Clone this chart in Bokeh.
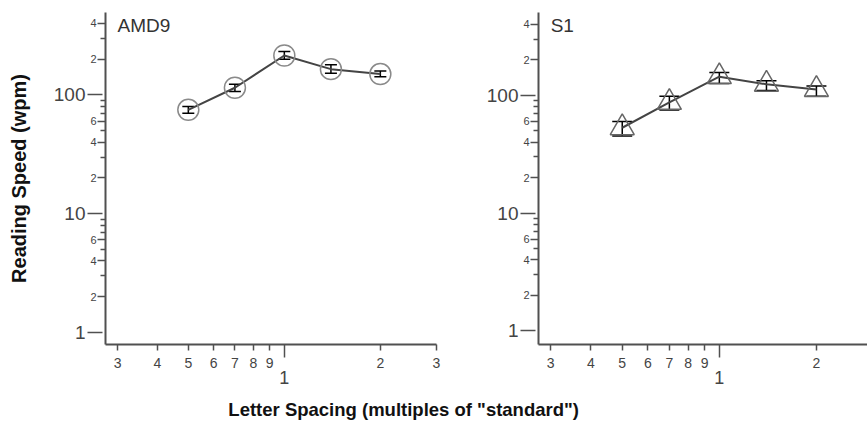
from bokeh.plotting import figure
from bokeh.models import (ColumnDataSource, Range1d, LogAxis, FixedTicker,
                          CustomJSTickFormatter, Whisker, TeeHead, Label)
from bokeh.layouts import row, column
from bokeh.embed import file_html
from bokeh.resources import INLINE
from bokeh.core.properties import value

# ---------------- data ----------------
spacing = [0.5, 0.7, 1.0, 1.4, 2.0]

amd9_speed = [75, 115, 215, 165, 150]
amd9_lo = [70, 107, 200, 152, 142]
amd9_hi = [80, 123, 232, 180, 159]

s1_speed = [53, 87, 144, 124, 112]
s1_lo = [45, 75, 126, 110, 98]
s1_hi = [60, 98, 156, 133, 120]

x_minor_ticks = [0.3, 0.4, 0.5, 0.6, 0.7, 0.8, 0.9, 2, 3]
x_minor_labels = ["3", "4", "5", "6", "7", "8", "9", "2", "3"]
x_major_ticks = [1]
x_major_labels = ["1"]

y_decade_ticks = [1, 10, 100]
y_decade_labels = ["1", "10", "100"]
y_labeled_ticks = [2, 4, 6, 20, 40, 60, 200, 400]
y_labeled_labels = ["2", "4", "6", "2", "4", "6", "2", "4"]
y_unlabeled_ticks = [3, 5, 7, 8, 9, 30, 50, 70, 80, 90, 300]

FONT = "Liberation Sans"
AX = "#505050"
TXT = "#444444"


def fmt(ticks, labels):
    return CustomJSTickFormatter(args=dict(tv=ticks, tl=labels), code="""
        for (let i = 0; i < tv.length; i++) {
            if (Math.abs(tv[i] - tick) <= 1e-6 * Math.abs(tv[i])) return tl[i];
        }
        return "";
    """)


def style_axis(a, size):
    a.axis_line_color = AX
    a.axis_line_width = 2
    a.major_tick_line_color = AX
    a.major_tick_line_width = 1.5
    a.minor_tick_line_color = AX
    a.minor_tick_line_width = 1.5
    a.major_label_text_font = FONT
    a.major_label_text_color = TXT
    a.major_label_text_font_size = size


def make_panel(width, height, xr, yr, border, ylabel=None):
    p = figure(width=width, height=height, x_axis_type="log", y_axis_type="log",
               x_range=Range1d(*xr), y_range=Range1d(*yr),
               output_backend="svg", toolbar_location=None, title=None,
               min_border_left=border[0], min_border_right=border[1],
               min_border_top=border[2], min_border_bottom=border[3])
    p.grid.visible = False
    p.outline_line_color = None
    p.background_fill_color = "white"
    p.border_fill_color = "white"

    # inner x axis: small mantissa labels + long unlabeled tick at 1
    xa = p.xaxis[0]
    xa.ticker = FixedTicker(ticks=x_minor_ticks, minor_ticks=x_major_ticks)
    xa.formatter = fmt(x_minor_ticks, x_minor_labels)
    style_axis(xa, "14px")
    xa.major_tick_out = 6
    xa.major_tick_in = 0
    xa.minor_tick_out = 13
    xa.minor_tick_in = 0
    xa.major_label_standoff = 0

    # outer x axis: the "1" label
    xb = LogAxis(ticker=FixedTicker(ticks=x_major_ticks, minor_ticks=[]),
                 formatter=fmt(x_major_ticks, x_major_labels))
    style_axis(xb, "18px")
    xb.axis_line_alpha = 0
    xb.major_tick_out = 0
    xb.major_tick_in = 0
    xb.minor_tick_out = 0
    xb.major_label_standoff = 0
    p.add_layout(xb, "below")

    # inner y axis: 2,4,6 labels and unlabeled minor ticks
    ya = p.yaxis[0]
    ya.ticker = FixedTicker(ticks=y_labeled_ticks, minor_ticks=y_unlabeled_ticks)
    ya.formatter = fmt(y_labeled_ticks, y_labeled_labels)
    style_axis(ya, "11px")
    ya.major_tick_out = 8
    ya.major_tick_in = 0
    ya.minor_tick_out = 5
    ya.minor_tick_in = 0
    ya.major_label_standoff = 1

    # outer y axis: decade labels with long ticks reaching the frame
    yb = LogAxis(ticker=FixedTicker(ticks=y_decade_ticks, minor_ticks=[]),
                 formatter=fmt(y_decade_ticks, y_decade_labels))
    style_axis(yb, "19px")
    yb.axis_line_alpha = 0
    yb.major_tick_out = 0
    yb.major_tick_in = 15
    yb.minor_tick_out = 0
    yb.major_label_standoff = 2
    if ylabel:
        yb.axis_label = ylabel
        yb.axis_label_text_font = FONT
        yb.axis_label_text_font_style = "bold"
        yb.axis_label_text_font_size = "20px"
        yb.axis_label_text_color = "#111111"
        yb.axis_label_standoff = 21
    p.add_layout(yb, "left")
    return p


# ---------------- left panel: AMD9 ----------------
p1 = make_panel(450, 389, (0.275, 3.0), (0.79, 495), (105, 14, 12, 45),
                ylabel="Reading Speed (wpm)")
src1 = ColumnDataSource(dict(x=spacing, y=amd9_speed, lo=amd9_lo, hi=amd9_hi))
p1.line("x", "y", source=src1, line_color="#444444", line_width=2)
p1.add_layout(Whisker(source=src1, base="x", lower="lo", upper="hi",
                      line_color="black", line_width=1.5,
                      lower_head=TeeHead(size=12, line_color="black", line_width=1.5),
                      upper_head=TeeHead(size=12, line_color="black", line_width=1.5)))
p1.scatter("x", "y", source=src1, marker="circle", size=21, fill_alpha=0,
           line_color="#8a8a8a", line_width=1.5)
p1.add_layout(Label(x=0.3, y=470, text="AMD9", text_font=FONT, text_font_size="19px",
                    text_color="#333333", text_baseline="top", text_align="left"))

# ---------------- right panel: S1 ----------------
p2 = make_panel(417, 389, (0.275, 2.88), (0.764, 505), (88, 0, 7, 45))
src2 = ColumnDataSource(dict(x=spacing, y=s1_speed, lo=s1_lo, hi=s1_hi))
p2.line("x", "y", source=src2, line_color="#444444", line_width=2)
p2.add_layout(Whisker(source=src2, base="x", lower="lo", upper="hi",
                      line_color="black", line_width=1.5,
                      lower_head=TeeHead(size=20, line_color="black", line_width=1.5),
                      upper_head=TeeHead(size=20, line_color="black", line_width=1.5)))
p2.scatter("x", "y", source=src2, marker="triangle", size=24, fill_alpha=0,
           line_color="#666666", line_width=1.5)
p2.add_layout(Label(x=0.3, y=480, text="S1", text_font=FONT, text_font_size="19px",
                    text_color="#333333", text_baseline="top", text_align="left"))

# ---------------- shared x-axis title ----------------
p3 = figure(width=867, height=39, x_range=Range1d(0, 1), y_range=Range1d(0, 1),
            output_backend="svg", toolbar_location=None, title=None,
            x_axis_location=None, y_axis_location=None,
            min_border_left=0, min_border_right=0, min_border_top=0, min_border_bottom=0)
p3.grid.visible = False
p3.outline_line_color = None
p3.text(x=[0.465], y=[0.49], text=['Letter Spacing (multiples of "standard")'],
        text_font=value(FONT), text_font_style="bold", text_font_size="18.5px",
        text_color="#111111", text_align="center", text_baseline="middle")

layout = column(row(p1, p2), p3)
open("out.html", "w").write(file_html(layout, INLINE))
